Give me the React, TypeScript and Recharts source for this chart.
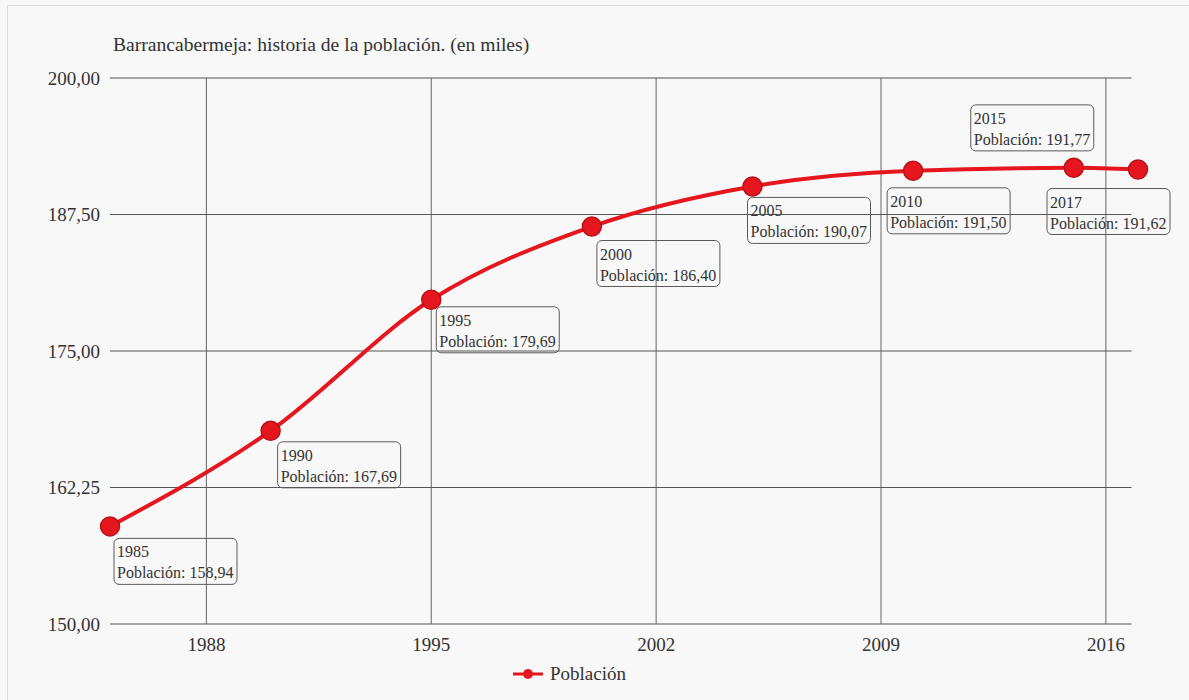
import React from "react";
import { LineChart, Line, XAxis, YAxis, Legend, LabelList, ReferenceLine } from "recharts";

// data
const years = [1985, 1990, 1995, 2000, 2005, 2010, 2015, 2017];
const poblacion = [158.94, 167.69, 179.69, 186.4, 190.07, 191.5, 191.77, 191.62];
const xTicks = [1988, 1995, 2002, 2009, 2016];
const yTicks = [150, 162.5, 175, 187.5, 200];
const yTickLabels = ["150,00", "162,25", "175,00", "187,50", "200,00"];

const data = years.map((y, i) => ({ year: y, value: poblacion[i] }));

const FONT = '"Times New Roman", "Liberation Serif", "DejaVu Serif", serif';
const RED = "#e5161e";

// where each label box sits relative to its point (box left / top)
const labelOffsets: [number, number][] = [
  [4, 12],
  [7, 11],
  [5, 7],
  [5, 14],
  [-5, 11],
  [-26, 17],
  [-103, -63],
  [-91, 19],
];

const fmt = (v: number) => v.toFixed(2).replace(".", ",");

const PointLabel = (props: any) => {
  const { x, y, index } = props;
  const [dx, dy] = labelOffsets[index] || [4, 12];
  const bx = x + dx;
  const by = y + dy;
  return (
    <g>
      <rect x={bx} y={by} width={123} height={46} rx={5} fill="none" stroke="#5a5a5a" strokeWidth={1} />
      <text x={bx + 3} y={by + 19} fontFamily={FONT} fontSize={16} fill="#333">
        {years[index]}
      </text>
      <text x={bx + 3} y={by + 40} fontFamily={FONT} fontSize={16} fill="#333">
        {"Población: " + fmt(poblacion[index])}
      </text>
    </g>
  );
};

const LegendContent = () => (
  <div style={{ display: "flex", justifyContent: "center", alignItems: "center", fontFamily: FONT, fontSize: 19, color: "#333" }}>
    <svg width={32} height={14} style={{ marginRight: 6 }}>
      <line x1={1} y1={7} x2={31} y2={7} stroke={RED} strokeWidth={3} />
      <circle cx={16} cy={7} r={5} fill={RED} />
    </svg>
    <span>Población</span>
  </div>
);

export default function App() {
  return (
    <div style={{ position: "fixed", left: 0, top: 0, width: 1189, height: 700, background: "#f8f8f8" }}>
      <div
        style={{
          position: "absolute",
          left: 7,
          top: 5,
          right: 0,
          bottom: 0,
          borderLeft: "1px solid #dcdcdc",
          borderTop: "1px solid #dcdcdc",
        }}
      />
      <div
        style={{
          position: "absolute",
          left: 113,
          top: 34,
          fontFamily: FONT,
          fontSize: 19.6,
          color: "#333",
          whiteSpace: "nowrap",
        }}
      >
        Barrancabermeja: historia de la población. (en miles)
      </div>
      <div style={{ position: "absolute", left: 0, top: 0 }}>
        <LineChart width={1189} height={700} data={data} margin={{ top: 78, right: 51, left: 0, bottom: 11 }}>
          {xTicks.map((t) => (
            <ReferenceLine
              key={"x" + t}
              segment={[
                { x: t, y: 150 },
                { x: t, y: 200 },
              ]}
              stroke="#666"
              strokeWidth={1}
            />
          ))}
          {yTicks.map((t) => (
            <ReferenceLine
              key={"y" + t}
              segment={[
                { x: 1985, y: t },
                { x: 2016.8, y: t },
              ]}
              stroke="#555"
              strokeWidth={1.2}
            />
          ))}
          <XAxis
            dataKey="year"
            type="number"
            domain={[1985, 2017]}
            ticks={xTicks}
            height={39}
            axisLine={false}
            tickLine={false}
            tickMargin={8}
            tick={{ fontFamily: FONT, fontSize: 19, fill: "#333" }}
          />
          <YAxis
            type="number"
            domain={[150, 200]}
            ticks={yTicks}
            width={110}
            axisLine={false}
            tickLine={false}
            tickSize={4}
            tickMargin={6}
            tickFormatter={(v: number) => yTickLabels[yTicks.indexOf(v)]}
            tick={{ fontFamily: FONT, fontSize: 19, fill: "#333" }}
          />
          <Legend verticalAlign="bottom" content={<LegendContent />} wrapperStyle={{ height: 26 }} />
          <Line
            type="monotone"
            dataKey="value"
            name="Población"
            stroke={RED}
            strokeWidth={4}
            dot={{ r: 9.5, fill: RED, stroke: "#b8121a", strokeWidth: 1.5 }}
            activeDot={false}
            isAnimationActive={false}
          >
            <LabelList dataKey="value" content={<PointLabel />} />
          </Line>
        </LineChart>
      </div>
    </div>
  );
}
